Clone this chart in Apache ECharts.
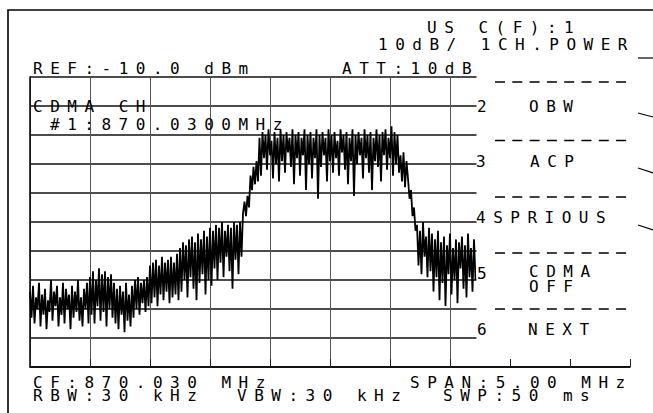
<!DOCTYPE html>
<html><head><meta charset="utf-8">
<script src="https://cdn.jsdelivr.net/npm/echarts@6/dist/echarts.min.js"></script>
<style>
html,body{margin:0;padding:0;background:#fff;}
#main{width:653px;height:413px;}
#main text{letter-spacing:7.5px;}
</style></head><body><div id="main"></div>
<script>
// ---- data ----
const refLevelDbm = -10;
const dbPerDiv = 10;
const yDivisions = 10;
const spanMHz = 5.0;
const sweepPoints = 401;
// measured trace (dBm), first 298 sweep points (the rest is hidden behind the soft-key menu)
const traceDbm = [
  -84,-93,-82,-95,-86,-90,-81,-96,-85,-92,
  -83,-97,-87,-91,-80,-94,-84,-89,-82,-96,
  -86,-92,-81,-95,-83,-90,-85,-97,-82,-93,
  -84,-91,-80,-94,-86,-96,-83,-90,-81,-95,
  -79,-92,-77,-95,-80,-89,-76,-94,-78,-91,
  -77,-96,-79,-90,-78,-93,-81,
  -95,-83,-97,-82,-92,-84,-98,-81,-94,-85,-96,-82,-93,
  -80,-90,-79,-92,-81,-88,-80,-91,-79,-89,
  -75,-88,-74,-86,-73,-89,-75,-85,-72,-87,
  -74,-84,-73,-88,-72,-86,-74,-85,-71,-87,
  -69,-84,-67,-80,-68,-86,-66,-79,-65,-83,
  -67,-87,-64,-81,-66,-78,-63,-85,-65,-80,
  -62,-82,-63,-76,-61,-80,-62,-74,-60,-79,
  -63,-72,-61,-77,-62,-83,-60,-73,-61,-78,
  -60,-72,
  -57,-53,-58,-51,-55,
  -44,-49,-41,-47,-39,-46,
  -31,-44,-29,-38,-30,-42,-28,-37,-32,-45,
  -29,-40,-31,-46,-28,-39,-30,-43,-29,-36,
  -31,-41,-28,-47,-30,-38,-29,-44,-31,-37,
  -28,-49,-30,-40,-29,-45,-31,-38,-28,-52,
  -30,-41,-29,-37,-31,-46,-28,-39,-30,-43,
  -29,-38,-32,-44,-28,-36,-30,-42,-29,-47,
  -31,-39,-28,-51,-30,-40,-29,-37,-31,-45,
  -28,-38,-30,-43,-29,-49,-31,-39,-28,-41,
  -30,-46,-29,-37,-28,-42,-31,-38,-27,-44,
  -29,-40,-30,-43,
  -37,-46,-36,-48,-39,
  -45,-52,-49,-58,-55,-63,
  -61,-75,-63,-78,-60,-72,-65,-79,-62,
  -77,-64,-84,-66,-79,-63,-87,-67,-81,-65,
  -89,-68,-78,-64,-85,-69,-80,-66,-88,-67,
  -76,-65,-83,-68,-86,-64,-79,-69,-84,-66,
  -80
];
const headerLines = ['US C(F):1', '10dB/ 1CH.POWER'];
const refLabel = 'REF:-10.0 dBm';
const attLabel = 'ATT:10dB';
const channelLabels = ['CDMA CH', '#1:870.0300MHz'];
const footerTop = ['CF:870.030 MHz', 'SPAN:5.00 MHz'];
const footerBottom = ['RBW:30 kHz', 'VBW:30 kHz', 'SWP:50 ms'];
const softkeyNumbers = ['2', '3', '5', '6'];
const softkeyCombined = '4SPRIOUS';
const softkeyLabels = ['OBW', 'ACP', 'CDMA', 'OFF', 'NEXT'];

// ---- build ----
const seriesData = traceDbm.map((v, i) => [-spanMHz / 2 + i * spanMHz / (sweepPoints - 1), v]);
const FONT = '16px "DejaVu Sans Mono"';
function txt(s, x, baseline) {
  return { type: 'text', z: 110, silent: true,
    style: { text: s, x: x, y: baseline - 6, font: FONT, lineHeight: 12, fill: '#000', align: 'left', verticalAlign: 'middle' } };
}
function seg(x1, y1, x2, y2, w, dash) {
  return { type: 'line', z: 105, silent: true,
    shape: { x1, y1, x2, y2 },
    style: { stroke: '#000', lineWidth: w || 1.5, lineDash: dash || null } };
}
const graphics = [
  { type: 'rect', z: 100, silent: true, shape: { x: 476.5, y: 70, width: 177, height: 288 }, style: { fill: '#fff', stroke: null } },
  { type: 'polyline', z: 105, silent: true, shape: { points: [[8, 413], [8, 10], [653, 10]] }, style: { stroke: '#000', lineWidth: 1.6, fill: null } },
  txt(headerLines[0], 427, 33),
  txt(headerLines[1], 378, 50),
  txt(refLabel, 33, 74),
  txt(attLabel, 342, 74),
  txt(channelLabels[0], 33, 112),
  txt(channelLabels[1], 50, 130),
  txt(footerTop[0], 33, 388),
  txt(footerTop[1], 410, 388),
  txt(footerBottom[0], 33, 401),
  txt(footerBottom[1], 237, 401),
  txt(footerBottom[2], 443, 401),
  txt(softkeyNumbers[0], 477, 112),
  txt(softkeyLabels[0], 529, 112),
  txt(softkeyNumbers[1], 476, 167),
  txt(softkeyLabels[1], 530, 167),
  txt(softkeyCombined, 476, 223),
  txt(softkeyNumbers[2], 477, 279),
  txt(softkeyLabels[2], 529, 277),
  txt(softkeyLabels[3], 529, 292),
  txt(softkeyNumbers[3], 477, 335),
  txt(softkeyLabels[4], 528, 335)
];
[82, 140.5, 197, 253, 309].forEach(y => graphics.push(seg(495, y, 628, y, 1.5, [10, 7.3])));
graphics.push(seg(638, 58, 653, 58, 1.2));
graphics.push(seg(638, 113, 653, 117, 1.2));
graphics.push(seg(638, 168, 653, 173, 1.2));
graphics.push(seg(638, 225, 653, 230, 1.2));

// vertical graticule: visible columns left of the soft-key menu, hidden underneath it
const vGridColors = [];
for (let k = 0; k <= 10; k++) vGridColors.push(k <= 7 ? '#555' : 'rgba(0,0,0,0)');

const chart = echarts.init(document.getElementById('main'), null, { renderer: 'svg' });
chart.setOption({
  animation: false,
  backgroundColor: '#fff',
  grid: { left: 30, top: 77, width: 600, height: 290, containLabel: false },
  xAxis: {
    type: 'value', min: -spanMHz / 2, max: spanMHz / 2, interval: spanMHz / 10,
    axisLabel: { show: false },
    axisTick: { show: true, inside: true, length: 8, lineStyle: { color: '#222', width: 1 } },
    axisLine: { show: true, onZero: false, lineStyle: { color: '#000', width: 1.5 } },
    splitLine: { show: true, lineStyle: { color: vGridColors, width: 1 } }
  },
  yAxis: {
    type: 'value', min: refLevelDbm - dbPerDiv * yDivisions, max: refLevelDbm, interval: dbPerDiv,
    axisLabel: { show: false }, axisTick: { show: false },
    axisLine: { show: true, onZero: false, lineStyle: { color: '#000', width: 1.5 } },
    splitLine: { show: true, lineStyle: { color: '#111', width: 1.5 } }
  },
  series: [{
    type: 'line', data: seriesData, showSymbol: false, symbol: 'none',
    lineStyle: { color: '#000', width: 1.8 }, z: 5
  }],
  graphic: { elements: graphics }
});
</script></body></html>
